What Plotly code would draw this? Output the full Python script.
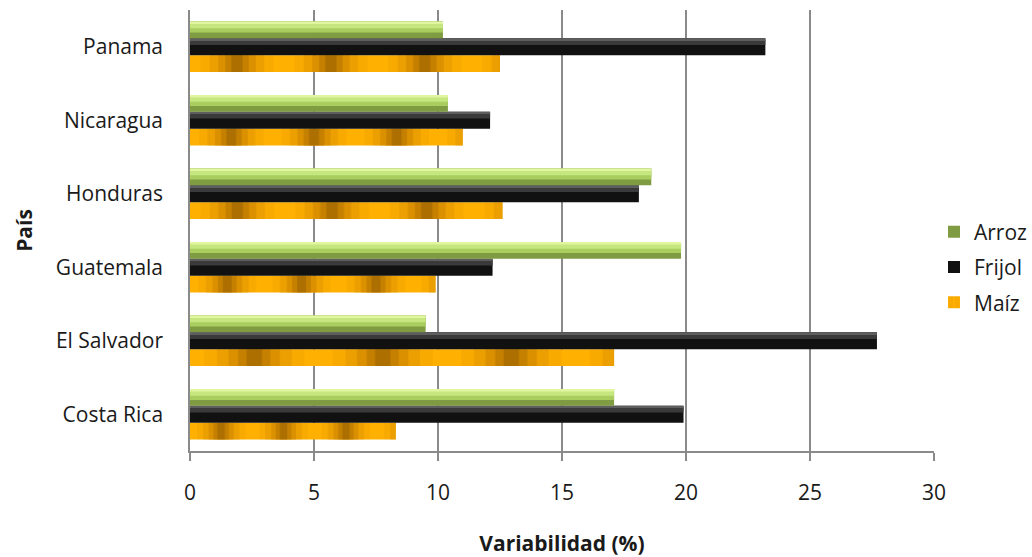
import plotly.graph_objects as go

# Data: variability (%) of staple-crop prices by country
paises = ["Costa Rica", "El Salvador", "Guatemala", "Honduras", "Nicaragua", "Panama"]
arroz = [17.1, 9.5, 19.8, 18.6, 10.4, 10.2]
frijol = [19.9, 27.7, 12.2, 18.1, 12.1, 23.2]
maiz = [8.3, 17.1, 9.9, 12.6, 11.0, 12.5]
x_ticks = [0, 5, 10, 15, 20, 25, 30]

FONT = "Open Sans"
TEXT = "#1a1a1a"
GRID = "#8a8a8a"
CLEAR = "rgba(0,0,0,0)"

# Plot-area geometry (px) used to scale the Maíz stripe texture per bar
L, R, T, B = 190, 98, 10, 106
W_FIG, H_FIG = 1032, 557
PLOT_W = W_FIG - L - R
X_MAX = 30
STRIPES_PER_BAR = 3.3

w = 0.228  # bar thickness in category units
off_arroz, off_frijol, off_maiz = w / 2, -w / 2, -1.5 * w

fig = go.Figure()


def layer(x, color, offset, width, name=None, legend=False, rank=None, pattern=None):
    fig.add_trace(go.Bar(
        y=paises, x=x, orientation="h",
        name=name, showlegend=legend, legendrank=rank,
        legendgroup=name if legend else None,
        offset=offset, width=width,
        marker=dict(color=color, line=dict(width=0), pattern=pattern),
        hoverinfo="skip" if not legend else None,
    ))


# Maíz: orange bar with soft vertical bands stretched along each bar,
# built from nested stripe layers that darken toward each band centre
stripe = [v * PLOT_W / X_MAX / STRIPES_PER_BAR for v in maiz]
layer(maiz, "#ffb000", off_maiz, w, name="Maíz", legend=True, rank=3,
      pattern=dict(shape="|", size=stripe, solidity=0.78, fgcolor="#f2a400",
                   fillmode="overlay"))
band_steps = [(0.58, "#df9300"), (0.4, "#c98100"), (0.25, "#b07000"), (0.12, "#965f00")]
for solidity, col in band_steps:
    layer(maiz, col, off_maiz, w,
          pattern=dict(shape="|", size=stripe, solidity=solidity, fgcolor=col,
                       bgcolor=CLEAR))

# Frijol: black bar with a grey sheen on its upper part
layer(frijol, "#111111", off_frijol, w, name="Frijol", legend=True, rank=2)
layer(frijol, "#3a3a3a", off_frijol + 0.6 * w, 0.32 * w)
layer(frijol, "#5e5e5e", off_frijol + 0.9 * w, 0.1 * w)

# Arroz: olive base with lighter green top and a pale highlight
layer(arroz, "#7f9c42", off_arroz, w, name="Arroz", legend=True, rank=1)
layer(arroz, "#a9cd5f", off_arroz + 0.35 * w, 0.65 * w)
layer(arroz, "#c6e67f", off_arroz + 0.6 * w, 0.3 * w)
layer(arroz, "#e2f6a2", off_arroz + 0.86 * w, 0.14 * w)

fig.update_layout(
    width=W_FIG, height=H_FIG,
    barmode="overlay",
    margin=dict(l=L, r=R, t=T, b=B, autoexpand=False),
    plot_bgcolor="white", paper_bgcolor="white",
    font=dict(family=FONT, size=21, color=TEXT),
    legend=dict(
        x=1.0, xanchor="left", y=0.417, yanchor="middle",
        font=dict(family=FONT, size=21, color=TEXT),
        bgcolor=CLEAR, itemclick=False,
        traceorder="grouped", tracegroupgap=5,
    ),
    xaxis=dict(
        range=[0, X_MAX], tickvals=x_ticks, ticktext=[str(t) for t in x_ticks],
        showgrid=True, gridcolor=GRID, gridwidth=1.5,
        showline=True, linecolor=GRID, linewidth=1.5,
        ticks="outside", ticklen=8, tickcolor=GRID, tickwidth=1.5,
        ticklabelstandoff=14,
        zeroline=False,
        title=dict(text="<b>Variabilidad (%)</b>", font=dict(family=FONT, size=21, color=TEXT),
                   standoff=32),
    ),
    yaxis=dict(
        type="category", categoryorder="array", categoryarray=paises,
        range=[-0.5, len(paises) - 0.5],
        showgrid=False, showline=True, linecolor=GRID, linewidth=1.5,
        ticks="", ticklabelstandoff=21,
        title=dict(text="<b>País</b>", font=dict(family=FONT, size=21, color=TEXT),
                   standoff=18),
    ),
)

fig.write_html("out.html")
